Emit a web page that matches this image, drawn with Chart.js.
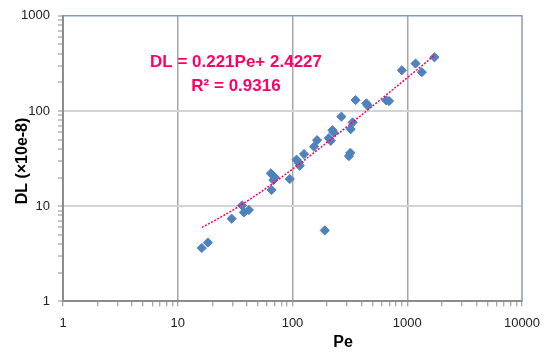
<!DOCTYPE html>
<html>
<head>
<meta charset="utf-8">
<script src="https://cdn.jsdelivr.net/npm/chart.js@4.4.1/dist/chart.umd.min.js"></script>
<style>
html,body{margin:0;padding:0;background:#fff;}
#wrap{width:553px;height:354px;position:relative;}
</style>
</head>
<body>
<div id="wrap"><canvas id="c" width="553" height="354"></canvas></div>
<script>
// Data (Pe vs DL ×10e-8)
const peValues = [16.2, 18.3, 29.5, 36.3, 37.7, 41.7, 65.7, 64.7, 70.2, 68.1, 94.7, 108.4, 115.7, 113.5, 126, 154, 163.7, 206.9, 215.5, 222.6, 228.7, 191, 266.8, 310.6, 319.5, 321.4, 334, 354.9, 440, 451.6, 656.6, 694.3, 897.5, 1181, 1339, 1726];
const dlValues = [3.64, 4.15, 7.39, 10.2, 8.6, 9.12, 14.8, 22.1, 20.1, 18.8, 19.3, 30.8, 26.6, 28.6, 35.3, 42.1, 49.4, 51.8, 48.6, 62.9, 59.3, 5.57, 87.2, 33.6, 36.4, 64.4, 75.8, 130.3, 120.3, 114.1, 129.4, 127.2, 268, 315, 255.6, 366.6];
// Linear trendline as printed on the chart
const trendSlope = 0.221;
const trendIntercept = 2.4227;
const equationText = 'DL = 0.221Pe+ 2.4227';
const r2Text = 'R\u00B2 = 0.9316';
const xTickValues = [1, 10, 100, 1000, 10000];
const xTickLabels = ['1', '10', '100', '1000', '10000'];
const yTickValues = [1, 10, 100, 1000];
const yTickLabels = ['1', '10', '100', '1000'];
const xTitle = 'Pe';
const yTitle = 'DL (\u00D710e-8)';

function minorTicks(majors) {
  const out = [];
  for (let i = 0; i < majors.length - 1; i++) {
    for (let k = 1; k < 10; k++) out.push(majors[i] * k);
  }
  out.push(majors[majors.length - 1]);
  return out;
}
function isMajor(v, majors) { return majors.some(m => Math.abs(m - v) < 1e-9 * m); }

const points = peValues.map((x, i) => ({x: x, y: dlValues[i]}));
const xMin = Math.min(...peValues), xMax = Math.max(...peValues);
const trend = [];
const N = 80;
for (let i = 0; i <= N; i++) {
  const x = Math.pow(10, Math.log10(xMin) + (Math.log10(xMax) - Math.log10(xMin)) * i / N);
  trend.push({x: x, y: trendSlope * x + trendIntercept});
}

const FONT = "'Liberation Sans', Arial, sans-serif";

const overlay = {
  id: 'overlay',
  afterDraw(chart) {
    const ctx = chart.ctx, a = chart.chartArea;
    ctx.save();
    ctx.strokeStyle = '#7F9DC9';
    ctx.lineWidth = 1.5;
    ctx.beginPath();
    ctx.moveTo(a.left, a.top);
    ctx.lineTo(a.right, a.top);
    ctx.lineTo(a.right, a.bottom);
    ctx.stroke();
    // equation
    ctx.fillStyle = '#FF0066';
    ctx.font = "bold 17px " + FONT;
    ctx.textAlign = 'center';
    ctx.textBaseline = 'middle';
    ctx.fillText(equationText, 236, 62);
    ctx.fillText(r2Text, 236, 86);
    // axis titles
    ctx.fillStyle = '#000';
    ctx.font = "bold 16px " + FONT;
    ctx.fillText(xTitle, 343, 343);
    ctx.translate(23, 161);
    ctx.rotate(-Math.PI / 2);
    ctx.fillText(yTitle, 0, 0);
    ctx.restore();
  }
};

new Chart(document.getElementById('c'), {
  type: 'scatter',
  data: {
    datasets: [
      {
        data: points,
        pointStyle: 'rectRot',
        pointRadius: 4.6,
        pointHoverRadius: 4.6,
        backgroundColor: '#4F81BD',
        borderColor: '#4F81BD',
        borderWidth: 1,
        order: 2
      },
      {
        type: 'line',
        data: trend,
        borderColor: '#FF0066',
        borderWidth: 1.5,
        borderDash: [2, 1.5],
        pointRadius: 0,
        fill: false,
        tension: 0,
        order: 1
      }
    ]
  },
  options: {
    responsive: false,
    animation: false,
    events: [],
    layout: {padding: {top: 14, right: 31, left: 0, bottom: 0}},
    plugins: {legend: {display: false}, tooltip: {enabled: false}},
    scales: {
      x: {
        type: 'logarithmic',
        min: 1, max: 10000,
        afterBuildTicks: s => { s.ticks = minorTicks(xTickValues).map(v => ({value: v})); },
        afterFit: s => { s.height = 52.6; },
        ticks: {
          autoSkip: false, maxRotation: 0, padding: 9,
          color: '#222', font: {family: FONT, size: 13},
          callback: v => { const i = xTickValues.findIndex(m => Math.abs(m - v) < 1e-9 * m); return i >= 0 ? xTickLabels[i] : ''; }
        },
        grid: {
          color: c => (c.tick && isMajor(c.tick.value, xTickValues) && c.tick.value > 1 && c.tick.value < 10000) ? '#A6A6A6' : 'rgba(0,0,0,0)',
          lineWidth: 1.5,
          tickColor: '#8C8C8C',
          tickLength: 5,
          tickWidth: 1
        },
        border: {color: '#8C8C8C', width: 2}
      },
      y: {
        type: 'logarithmic',
        min: 1, max: 1000,
        afterBuildTicks: s => { s.ticks = minorTicks(yTickValues).map(v => ({value: v})); },
        afterFit: s => { s.width = 63; },
        ticks: {
          autoSkip: false, padding: 8,
          color: '#222', font: {family: FONT, size: 13},
          callback: v => { const i = yTickValues.findIndex(m => Math.abs(m - v) < 1e-9 * m); return i >= 0 ? yTickLabels[i] : ''; }
        },
        grid: {
          color: c => (c.tick && isMajor(c.tick.value, yTickValues) && c.tick.value > 1 && c.tick.value < 1000) ? '#D4D4D4' : 'rgba(0,0,0,0)',
          lineWidth: 2,
          tickColor: '#8C8C8C',
          tickLength: 5,
          tickWidth: 1
        },
        border: {color: '#8C8C8C', width: 2}
      }
    }
  },
  plugins: [overlay]
});
</script>
</body>
</html>
